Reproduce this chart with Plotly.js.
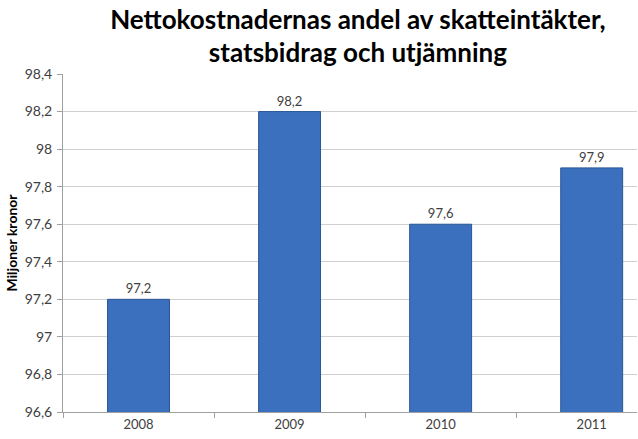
<!DOCTYPE html>
<html>
<head>
<meta charset="utf-8">
<script src="https://cdn.plot.ly/plotly-3.0.1.min.js"></script>
<style>html,body{margin:0;padding:0;background:#fff;}#chart{width:638px;height:439px;}</style>
</head>
<body>
<div id="chart"></div>
<script>
var years = ["2008", "2009", "2010", "2011"];
var values = [97.2, 98.2, 97.6, 97.9];
var valueLabels = ["97,2", "98,2", "97,6", "97,9"];
var yTicks = [96.6, 96.8, 97, 97.2, 97.4, 97.6, 97.8, 98, 98.2, 98.4];
var yTickLabels = ["96,6", "96,8", "97", "97,2", "97,4", "97,6", "97,8", "98", "98,2", "98,4"];

var trace = {
  type: "bar",
  x: years,
  y: values,
  width: 0.41,
  text: valueLabels,
  textposition: "outside",
  cliponaxis: false,
  textfont: {family: "Lato, 'Open Sans', sans-serif", size: 13, color: "#404040"},
  marker: {color: "#3a70be", line: {color: "#2a5796", width: 1}},
  hoverinfo: "none"
};

var layout = {
  width: 638, height: 439,
  margin: {l: 63, r: 1, t: 74, b: 27},
  paper_bgcolor: "#ffffff",
  plot_bgcolor: "#ffffff",
  separators: ", ",
  showlegend: false,
  title: {
    text: "<b>Nettokostnadernas andel av skatteintäkter,<br>statsbidrag och utjämning</b>",
    font: {family: "Lato, 'Open Sans', sans-serif", size: 26, color: "#000000"},
    x: 0.561, xanchor: "center",
    y: 0.935, yanchor: "top"
  },
  xaxis: {
    type: "category",
    range: [-0.5, 3.3],
    tickson: "boundaries",
    ticks: "outside", ticklen: 5, tickcolor: "#a0a0a0",
    showgrid: false,
    showline: true, linecolor: "#a0a0a0", linewidth: 1,
    tickfont: {family: "Lato, 'Open Sans', sans-serif", size: 13, color: "#404040"},
    fixedrange: true
  },
  yaxis: {
    range: [96.6, 98.4],
    tickvals: yTicks,
    ticktext: yTickLabels,
    ticks: "outside", ticklen: 5, tickcolor: "#a0a0a0",
    ticklabelstandoff: 2,
    showgrid: true, gridcolor: "#d0d0d0", gridwidth: 1,
    showline: true, linecolor: "#a0a0a0", linewidth: 1,
    zeroline: false,
    tickfont: {family: "Lato, 'Open Sans', sans-serif", size: 14, color: "#404040"},
    title: {text: "<b>Miljoner kronor</b>", font: {family: "Lato, 'Open Sans', sans-serif", size: 14, color: "#000000"}, standoff: 3},
    fixedrange: true
  }
};

Plotly.newPlot("chart", [trace], layout, {displayModeBar: false, staticPlot: true});
</script>
</body>
</html>
